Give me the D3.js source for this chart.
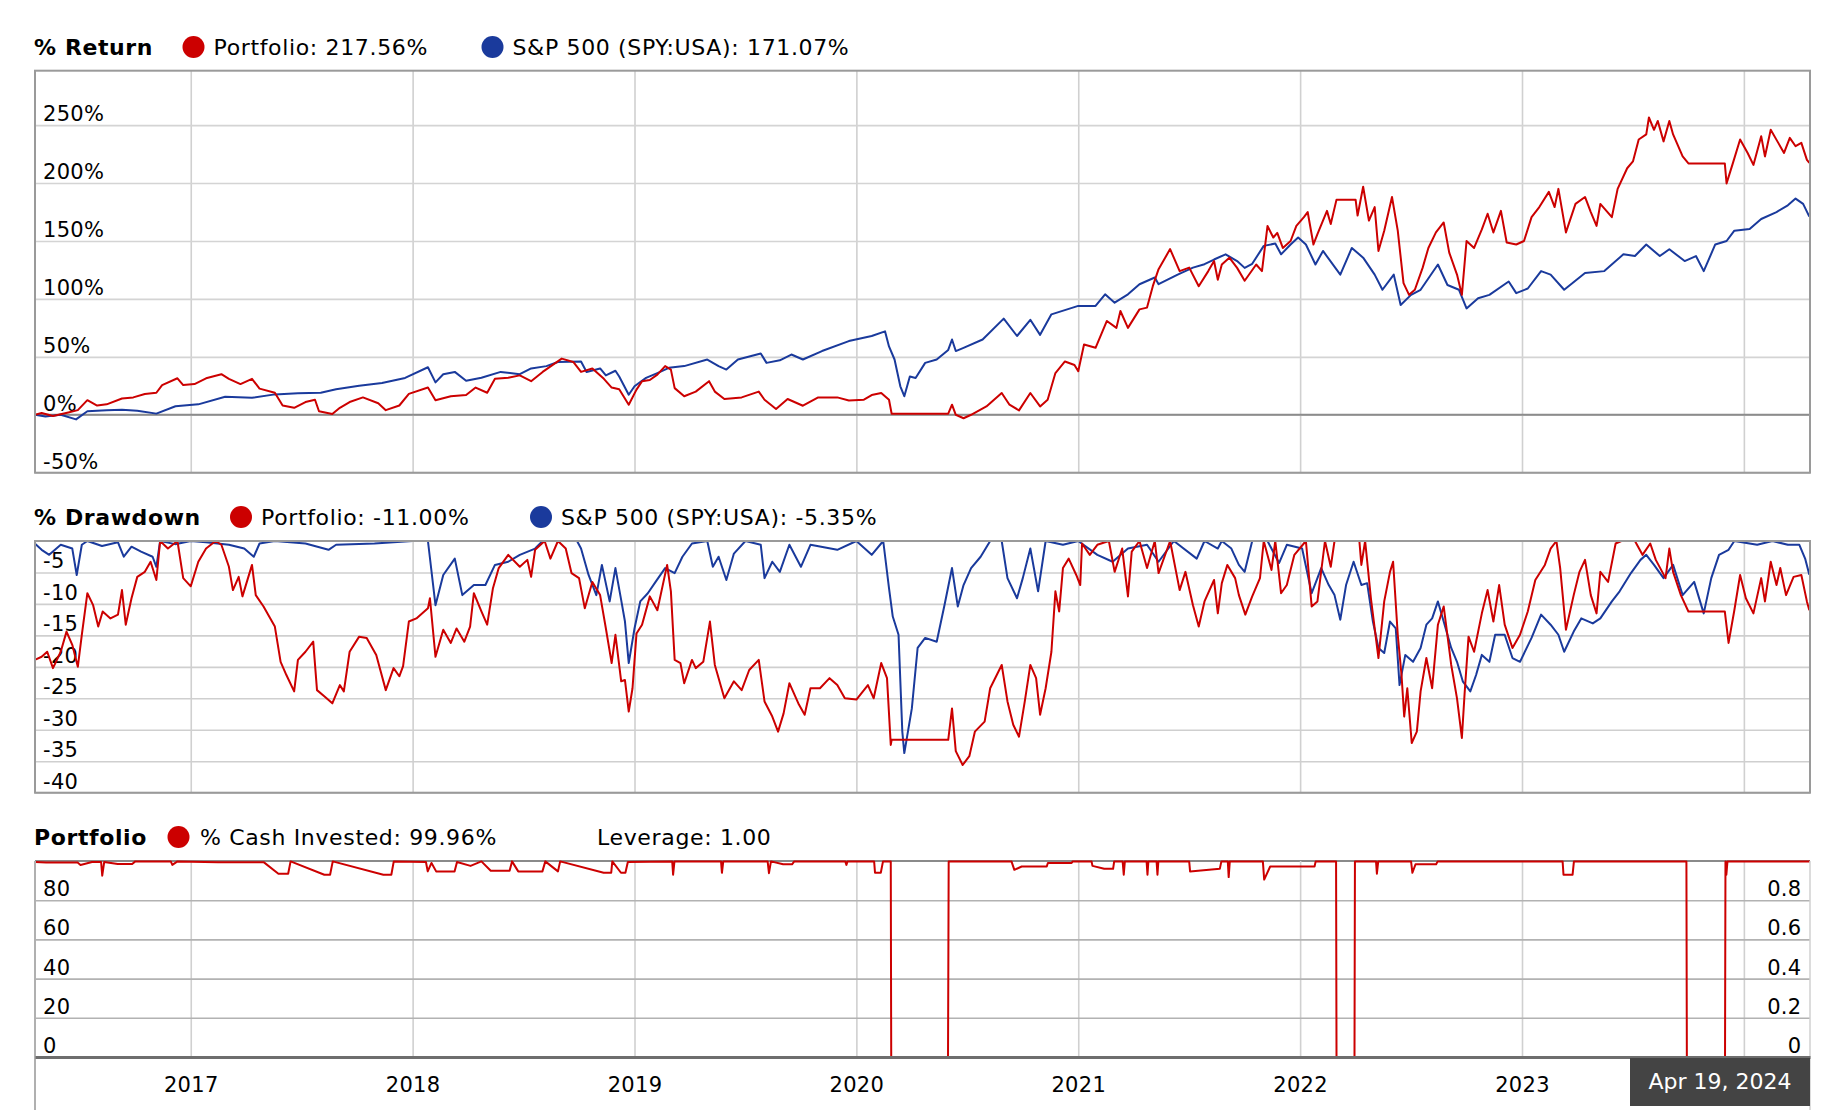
<!DOCTYPE html>
<html>
<head>
<meta charset="utf-8">
<script src="https://cdn.jsdelivr.net/npm/d3@7"></script>
<style>
  html, body { margin: 0; padding: 0; background: #fff; }
  svg { display: block; font-family: "DejaVu Sans", Verdana, sans-serif; }
</style>
</head>
<body>
<svg id="chart" width="1830" height="1110"></svg>
<script>
// ---------------- DATA ----------------
const startDate = 2016.298;   // Apr 19, 2016
const endDate = 2024.298;     // Apr 19, 2024
const yearTicks = [2017, 2018, 2019, 2020, 2021, 2022, 2023, 2024];
const yearLabels = [2017, 2018, 2019, 2020, 2021, 2022, 2023]; // 2024 is hidden under the date box
const returnTicks = [-50, 0, 50, 100, 150, 200, 250];
const drawdownTicks = [-5, -10, -15, -20, -25, -30, -35, -40];
const cashTicks = [0, 20, 40, 60, 80];
const leverageTicks = [0, 0.2, 0.4, 0.6, 0.8];

const returnLegend = ["Portfolio: 217.56%", "S&P 500 (SPY:USA): 171.07%"];
const drawdownLegend = ["Portfolio: -11.00%", "S&P 500 (SPY:USA): -5.35%"];
const cashLegend = ["% Cash Invested: 99.96%", "Leverage: 1.00"];
const tooltipLabel = "Apr 19, 2024";

// [decimal year, % return]
const portfolioReturn = [
[2016.297,0],[2016.328,1.5],[2016.379,-1],[2016.448,2],[2016.491,4],[2016.534,12.6],[2016.578,8],[2016.621,9],
[2016.690,14],[2016.741,15],[2016.793,18],[2016.845,19],[2016.871,25.6],[2016.940,31.5],[2016.966,25.6],[2017.017,26.5],
[2017.069,31.5],[2017.138,35],[2017.172,31],[2017.224,26.5],[2017.276,31],[2017.310,22.6],[2017.379,19],[2017.414,8],
[2017.466,6],[2017.517,11],[2017.560,13],[2017.578,3],[2017.638,0.6],[2017.672,6],[2017.716,11],[2017.776,15],
[2017.845,10],[2017.879,4],[2017.940,8],[2017.983,18],[2018.069,23.5],[2018.103,12.6],[2018.172,16],[2018.241,17],
[2018.284,23.5],[2018.336,19],[2018.371,31],[2018.431,32],[2018.483,34],[2018.534,29],[2018.586,37],[2018.672,48.5],
[2018.724,45.6],[2018.759,37],[2018.810,40],[2018.862,31],[2018.897,23.5],[2018.931,22],[2018.974,8.7],[2019.009,21.7],
[2019.034,29],[2019.069,30],[2019.103,34.7],[2019.138,42],[2019.164,39],[2019.181,23],[2019.224,16],[2019.276,20],
[2019.336,29],[2019.362,20],[2019.405,13.6],[2019.483,15],[2019.560,20],[2019.586,13],[2019.638,5],[2019.690,13.6],
[2019.759,7.8],[2019.828,15],[2019.914,15],[2019.966,12.4],[2020.034,13],[2020.069,17],[2020.112,18.8],[2020.147,13],
[2020.159,0.9],[2020.414,0.9],[2020.431,8.7],[2020.448,0],[2020.483,-3],[2020.517,0],[2020.586,7.2],[2020.655,18.8],
[2020.690,8.7],[2020.733,3.8],[2020.784,18.8],[2020.828,7.2],[2020.862,13],[2020.897,36],[2020.940,46],[2020.983,43],
[2021.000,37.6],[2021.026,60.7],[2021.078,57.8],[2021.129,81],[2021.172,75],[2021.190,89.6],[2021.224,75],[2021.276,91],
[2021.310,92.5],[2021.336,111],[2021.362,125.7],[2021.414,143],[2021.457,124],[2021.500,127],[2021.543,111],[2021.586,124],
[2021.612,132.7],[2021.629,116.6],[2021.647,129.7],[2021.681,135.6],[2021.716,126.8],[2021.750,115.7],[2021.802,129.7],[2021.828,124],
[2021.853,163],[2021.879,153],[2021.897,157],[2021.922,144],[2021.957,150],[2021.983,163],[2022.017,170.6],[2022.034,175],
[2022.060,147],[2022.078,156],[2022.121,176],[2022.138,164.7],[2022.164,185.7],[2022.250,185.7],[2022.259,172],[2022.284,196.8],
[2022.310,167.6],[2022.336,179.3],[2022.353,141.4],[2022.379,158.9],[2022.414,188],[2022.440,158.9],[2022.466,113.7],[2022.491,103.5],
[2022.517,107.9],[2022.552,126.8],[2022.578,144],[2022.612,157.4],[2022.647,166],[2022.672,140],[2022.707,121],[2022.729,103.5],
[2022.750,150],[2022.784,144],[2022.819,160],[2022.845,173.5],[2022.871,157.4],[2022.905,176],[2022.931,148.7],[2022.974,147],
[2023.009,150],[2023.043,170.6],[2023.078,179.3],[2023.121,192.4],[2023.147,179.3],[2023.164,195],[2023.198,157.4],[2023.241,182],
[2023.284,188],[2023.310,175],[2023.336,163],[2023.353,182],[2023.405,170.6],[2023.431,195],[2023.474,212.8],[2023.500,218.7],
[2023.526,237.6],[2023.560,242],[2023.572,256.6],[2023.595,246],[2023.612,253.6],[2023.638,236],[2023.664,253.6],[2023.681,242],
[2023.724,223],[2023.750,217],[2023.914,217],[2023.922,199.7],[2023.948,215.7],[2023.983,237.6],[2024.017,226],[2024.043,215.7],
[2024.078,240.5],[2024.095,223],[2024.121,246],[2024.155,234.7],[2024.181,226],[2024.207,239],[2024.233,231.8],[2024.259,234.7],
[2024.284,220],[2024.295,217.56]
];

const spyReturn = [
[2016.297,0],[2016.345,-1.5],[2016.414,0],[2016.483,-4],[2016.534,3],[2016.621,4],[2016.690,4.4],[2016.759,3.5],
[2016.845,1],[2016.931,7.4],[2017.034,9],[2017.155,15.6],[2017.276,14.7],[2017.379,17.6],[2017.483,18.5],[2017.586,19],
[2017.655,22],[2017.759,25],[2017.862,27.4],[2017.966,31.8],[2018.069,41],[2018.103,28],[2018.138,35],[2018.190,37],
[2018.241,29.4],[2018.310,32],[2018.397,37],[2018.483,35],[2018.534,40],[2018.603,42],[2018.655,45.6],[2018.759,46],
[2018.784,37],[2018.845,40],[2018.871,34],[2018.914,38],[2018.931,33],[2018.974,17.3],[2019.000,24.6],[2019.052,31.8],
[2019.103,36],[2019.155,40.5],[2019.224,42],[2019.328,47.7],[2019.379,42],[2019.414,39],[2019.466,47.7],[2019.569,52.9],
[2019.595,44.8],[2019.655,47],[2019.707,52],[2019.759,47.7],[2019.845,55],[2019.966,63.6],[2020.069,68],[2020.129,72],
[2020.147,59],[2020.172,47.7],[2020.198,24.6],[2020.216,16],[2020.241,33],[2020.267,31.8],[2020.310,44.8],[2020.362,47.7],
[2020.414,56],[2020.431,65],[2020.448,55],[2020.483,57.8],[2020.569,65],[2020.664,83],[2020.724,68],[2020.784,82],
[2020.828,69],[2020.879,86.7],[2021.000,94],[2021.078,94],[2021.121,104],[2021.164,96.8],[2021.224,104],[2021.276,112.7],
[2021.345,118.5],[2021.362,112.7],[2021.448,121],[2021.517,127],[2021.569,130],[2021.612,134],[2021.664,138.5],[2021.716,132.7],
[2021.750,126.8],[2021.784,130.3],[2021.836,145.8],[2021.888,147.8],[2021.914,138.5],[2021.957,147],[2021.991,153],[2022.026,147],
[2022.069,129.7],[2022.103,141.4],[2022.181,121],[2022.233,144],[2022.284,135.6],[2022.336,121],[2022.371,107.9],[2022.422,121],
[2022.453,94.8],[2022.500,103.5],[2022.543,107.9],[2022.621,129.7],[2022.664,112],[2022.716,107.9],[2022.750,91.8],[2022.802,100.6],
[2022.853,103.5],[2022.940,115],[2022.974,105],[2023.026,109],[2023.086,124],[2023.129,121],[2023.190,107.9],[2023.284,122.4],
[2023.371,124],[2023.457,138.5],[2023.509,137],[2023.560,147],[2023.621,137],[2023.664,142.9],[2023.733,132.7],[2023.784,137],
[2023.819,124],[2023.871,147],[2023.922,150],[2023.957,158.9],[2024.026,160.4],[2024.078,169],[2024.147,175],[2024.198,180.8],
[2024.233,186.6],[2024.267,182],[2024.295,171.07]
];

// [decimal year, % drawdown]
const portfolioDrawdown = [
[2016.297,-18.9],[2016.328,-18.4],[2016.353,-17.6],[2016.379,-20.2],[2016.414,-17.6],[2016.440,-14.4],[2016.466,-16.5],[2016.491,-20],
[2016.509,-14.9],[2016.534,-8.3],[2016.560,-10.2],[2016.583,-13.6],[2016.603,-11.2],[2016.638,-12.3],[2016.672,-11.7],[2016.690,-7.8],
[2016.707,-13.3],[2016.733,-9.1],[2016.759,-5.7],[2016.793,-4.9],[2016.819,-3.3],[2016.845,-6.2],[2016.862,0],[2016.897,-1.2],
[2016.940,0],[2016.966,-5.9],[2017.000,-7.2],[2017.034,-3.3],[2017.069,-1.2],[2017.112,0],[2017.138,-0.6],[2017.172,-4.1],
[2017.190,-7.8],[2017.216,-5.7],[2017.233,-8.8],[2017.276,-3.8],[2017.293,-8.6],[2017.328,-10.4],[2017.379,-13.6],[2017.405,-19.2],
[2017.431,-21.3],[2017.466,-23.9],[2017.483,-18.9],[2017.517,-17.6],[2017.552,-16],[2017.569,-23.7],[2017.603,-24.7],[2017.638,-25.8],
[2017.672,-22.9],[2017.690,-23.9],[2017.716,-17.6],[2017.759,-15.2],[2017.793,-15.4],[2017.836,-18.1],[2017.879,-23.7],[2017.914,-20.2],
[2017.940,-21.5],[2017.957,-19.9],[2017.983,-12.8],[2018.017,-12.3],[2018.069,-10.7],[2018.078,-9.1],[2018.103,-18.4],[2018.138,-14.1],
[2018.172,-16.2],[2018.198,-13.9],[2018.233,-16],[2018.259,-13.6],[2018.276,-8.3],[2018.310,-11.2],[2018.336,-13.3],[2018.362,-7.5],
[2018.388,-4.3],[2018.431,-2.2],[2018.483,-4.1],[2018.517,-3],[2018.534,-5.7],[2018.552,-1.4],[2018.595,0],[2018.621,-2.8],
[2018.655,0],[2018.690,-1.2],[2018.716,-5.1],[2018.750,-5.9],[2018.776,-10.7],[2018.810,-6.5],[2018.845,-8.6],[2018.871,-13.9],
[2018.897,-19.4],[2018.914,-14.9],[2018.940,-22.3],[2018.957,-22.1],[2018.974,-27.1],[2018.991,-23.4],[2019.009,-14.7],[2019.034,-13.3],
[2019.069,-8.8],[2019.103,-11],[2019.147,-3.8],[2019.164,-8],[2019.181,-18.9],[2019.207,-19.4],[2019.224,-22.6],[2019.259,-18.9],
[2019.276,-20.2],[2019.310,-19.2],[2019.340,-12.8],[2019.362,-19.7],[2019.405,-25],[2019.448,-22.3],[2019.483,-23.7],[2019.517,-20.5],
[2019.560,-18.9],[2019.586,-25.5],[2019.621,-27.9],[2019.647,-30.3],[2019.672,-27.4],[2019.698,-22.6],[2019.741,-26],[2019.767,-27.6],
[2019.793,-23.4],[2019.836,-23.4],[2019.879,-21.8],[2019.914,-22.9],[2019.948,-25],[2020.000,-25.2],[2020.052,-22.9],[2020.078,-25],
[2020.112,-19.4],[2020.138,-21.8],[2020.155,-32.4],[2020.159,-31.6],[2020.414,-31.6],[2020.431,-26.6],[2020.448,-33.4],[2020.479,-35.6],
[2020.509,-34.2],[2020.534,-30.3],[2020.578,-28.7],[2020.603,-23.4],[2020.655,-19.7],[2020.681,-25.5],[2020.707,-29.2],[2020.733,-31.1],
[2020.759,-25.5],[2020.784,-19.7],[2020.810,-21.8],[2020.828,-27.6],[2020.853,-23.4],[2020.879,-17.6],[2020.897,-8],[2020.914,-11.2],
[2020.931,-4.3],[2020.957,-2.8],[2020.991,-5.4],[2021.009,-7],[2021.017,-0.4],[2021.052,-2.2],[2021.086,-0.6],[2021.138,0],
[2021.164,-4.9],[2021.198,-1.2],[2021.224,-8.8],[2021.241,-1.7],[2021.276,0],[2021.310,-4.3],[2021.345,0],[2021.362,-5.1],
[2021.414,0],[2021.457,-7.8],[2021.483,-4.9],[2021.517,-10.2],[2021.543,-13.6],[2021.569,-9.6],[2021.612,-6.2],[2021.629,-11.5],
[2021.647,-6.7],[2021.672,-3.8],[2021.707,-5.9],[2021.724,-8.6],[2021.753,-11.7],[2021.784,-8.8],[2021.819,-5.9],[2021.836,0],
[2021.871,-4.6],[2021.888,0],[2021.914,-8.3],[2021.940,-7],[2021.974,-2.2],[2022.026,0],[2022.052,-10.4],[2022.078,-9.6],
[2022.112,0],[2022.138,-4.1],[2022.155,0],[2022.267,0],[2022.276,-3.8],[2022.293,0],[2022.319,-9.1],[2022.353,-18.6],
[2022.379,-9.6],[2022.405,-4.9],[2022.419,-3.3],[2022.440,-14.9],[2022.457,-21.3],[2022.469,-27.9],[2022.483,-23.4],[2022.503,-32.1],
[2022.526,-30.3],[2022.543,-23.9],[2022.569,-18.6],[2022.595,-23.4],[2022.621,-13.3],[2022.647,-10.4],[2022.681,-19.7],[2022.707,-25],
[2022.729,-31.3],[2022.741,-24.4],[2022.759,-15.2],[2022.784,-17.6],[2022.819,-11.5],[2022.845,-7.8],[2022.871,-12.8],[2022.897,-7],
[2022.922,-13.3],[2022.957,-17],[2022.991,-14.9],[2023.026,-11.2],[2023.060,-6.2],[2023.103,-3.8],[2023.129,-1.2],[2023.155,0],
[2023.172,-4.3],[2023.198,-14.1],[2023.233,-8.6],[2023.259,-4.9],[2023.284,-3],[2023.310,-8.6],[2023.336,-11.5],[2023.353,-4.9],
[2023.388,-6.5],[2023.422,-0.4],[2023.448,0],[2023.509,0],[2023.543,-2.2],[2023.578,-0.4],[2023.603,-3],[2023.647,-5.9],
[2023.664,-1.2],[2023.681,-4.9],[2023.716,-8.6],[2023.750,-11.2],[2023.914,-11.2],[2023.931,-16.2],[2023.957,-11],[2023.983,-5.4],
[2024.009,-9.1],[2024.043,-11.5],[2024.078,-5.9],[2024.095,-9.6],[2024.121,-3.3],[2024.147,-7],[2024.164,-4.3],[2024.190,-8.6],
[2024.224,-5.7],[2024.259,-5.4],[2024.284,-9.6],[2024.295,-11]
];

const spyDrawdown = [
[2016.297,-0.4],[2016.328,-1.4],[2016.362,-2.2],[2016.414,-0.6],[2016.466,-1.2],[2016.486,-5.4],[2016.509,-0.6],[2016.534,0],
[2016.600,-0.8],[2016.672,-0.2],[2016.698,-2.5],[2016.733,-0.9],[2016.776,-1.7],[2016.828,-2.5],[2016.845,-4.1],[2016.862,0],
[2016.930,-0.5],[2017.000,0],[2017.069,-0.2],[2017.172,-0.6],[2017.241,-1.2],[2017.284,-2.5],[2017.310,-0.4],[2017.379,0],
[2017.517,-0.4],[2017.621,-1.4],[2017.655,-0.6],[2017.828,-0.4],[2018.000,0],[2018.069,0],[2018.103,-10.2],[2018.138,-5.4],
[2018.190,-2.8],[2018.224,-8.6],[2018.276,-7],[2018.328,-7],[2018.371,-3.8],[2018.431,-3.3],[2018.483,-2.2],[2018.552,-1.2],
[2018.586,0],[2018.741,0],[2018.759,-1.2],[2018.793,-5.4],[2018.828,-8.6],[2018.853,-3.8],[2018.888,-9.6],[2018.914,-4.3],
[2018.940,-9.4],[2018.957,-12.8],[2018.974,-19.4],[2019.000,-13.9],[2019.026,-9.6],[2019.060,-8.3],[2019.095,-6.5],[2019.138,-4.3],
[2019.181,-5.1],[2019.216,-2.5],[2019.259,-0.4],[2019.328,0],[2019.353,-4.1],[2019.379,-2.5],[2019.414,-6.2],[2019.448,-2],
[2019.500,0],[2019.569,-0.6],[2019.586,-5.9],[2019.621,-3.3],[2019.655,-4.9],[2019.698,-0.6],[2019.750,-4.1],[2019.793,-0.6],
[2019.914,-1.4],[2020.000,0],[2020.069,-2.2],[2020.121,0],[2020.147,-7.5],[2020.164,-12],[2020.190,-14.9],[2020.207,-30.3],
[2020.216,-33.7],[2020.250,-26.6],[2020.276,-17],[2020.310,-15.4],[2020.362,-16],[2020.397,-10.2],[2020.431,-4.3],[2020.457,-10.4],
[2020.483,-7],[2020.517,-4.3],[2020.560,-2.5],[2020.603,0],[2020.655,0],[2020.681,-5.9],[2020.724,-9.1],[2020.750,-5.9],
[2020.784,-1.2],[2020.819,-8],[2020.853,0],[2020.931,-0.6],[2021.000,0],[2021.086,-2.2],[2021.155,-3.3],[2021.224,-1.2],
[2021.310,-0.6],[2021.362,-3.3],[2021.431,0],[2021.534,-2.8],[2021.569,0],[2021.629,-1.2],[2021.647,0],[2021.690,-1.2],
[2021.724,-3.8],[2021.750,-4.9],[2021.784,0],[2021.853,0],[2021.905,-3.5],[2021.940,-0.6],[2022.009,-1.2],[2022.052,-8.3],
[2022.078,-5.9],[2022.095,-4.3],[2022.129,-7],[2022.155,-8.6],[2022.181,-12.5],[2022.207,-7],[2022.241,-3.3],[2022.276,-7],
[2022.302,-6.7],[2022.328,-12.8],[2022.353,-17],[2022.379,-17.8],[2022.405,-12.8],[2022.431,-13.9],[2022.448,-22.9],[2022.474,-18.1],
[2022.509,-19.2],[2022.543,-17],[2022.569,-13.3],[2022.595,-12.3],[2022.621,-9.6],[2022.647,-12.8],[2022.681,-17],[2022.707,-19.2],
[2022.733,-22.3],[2022.767,-23.9],[2022.793,-21.3],[2022.819,-18.1],[2022.853,-19.2],[2022.879,-14.9],[2022.922,-14.9],[2022.957,-18.6],
[2022.991,-19.2],[2023.043,-15.4],[2023.086,-11.7],[2023.129,-13.3],[2023.164,-14.9],[2023.190,-17.6],[2023.233,-14.4],[2023.267,-12.3],
[2023.319,-13.1],[2023.353,-12.3],[2023.405,-9.6],[2023.440,-8],[2023.491,-5.1],[2023.534,-3],[2023.560,-2.2],[2023.595,-3.8],
[2023.638,-5.9],[2023.681,-3.8],[2023.724,-8.6],[2023.776,-6.5],[2023.819,-11.5],[2023.853,-5.9],[2023.888,-2.2],[2023.931,-1.4],
[2023.957,0],[2024.060,-0.6],[2024.129,0],[2024.198,-0.6],[2024.250,-0.6],[2024.276,-2.8],[2024.295,-5.35]
];

// [decimal year, % cash invested]
const cashInvested = [
[2016.300,99.5],[2016.348,99.2],[2016.490,99.2],[2016.503,98],[2016.555,99.5],[2016.596,99.5],[2016.601,92.5],[2016.610,99.5],
[2016.671,98.5],[2016.736,98.5],[2016.750,99.8],[2016.910,99.8],[2016.917,98],[2016.940,99.8],[2017.123,99.3],[2017.330,99.3],
[2017.395,93.5],[2017.439,93.5],[2017.450,99.8],[2017.602,93],[2017.628,93],[2017.640,99.8],[2017.868,93],[2017.904,93],
[2017.915,99.8],[2018.060,99.5],[2018.068,94.7],[2018.085,99],[2018.106,94.7],[2018.189,94.7],[2018.200,99.5],[2018.261,97.5],
[2018.310,99.8],[2018.352,95],[2018.437,95],[2018.448,99.8],[2018.476,94.7],[2018.585,94.7],[2018.598,99.8],[2018.655,94.7],
[2018.665,99.8],[2018.861,94],[2018.895,94],[2018.900,99.8],[2018.939,94],[2018.959,94],[2018.970,99.5],[2019.170,99.8],
[2019.174,93],[2019.180,99.8],[2019.390,99.8],[2019.394,94],[2019.400,99.8],[2019.600,99.8],[2019.606,93.8],[2019.615,99.8],
[2019.670,98.3],[2019.710,98.3],[2019.720,99.8],[2019.950,99.8],[2019.955,98],[2019.960,99.8],[2020.080,99.8],[2020.084,94],
[2020.110,94],[2020.120,99.8],[2020.155,99.8],[2020.157,0],[2020.413,0],[2020.416,99.8],[2020.699,99.8],[2020.712,95.5],
[2020.745,97.2],[2020.858,97.2],[2020.863,99],[2020.970,99],[2020.975,99.8],[2021.060,99.8],[2021.064,97.5],[2021.117,96],
[2021.157,96],[2021.162,99.8],[2021.200,99.8],[2021.205,93],[2021.210,99.8],[2021.308,99.8],[2021.312,93],[2021.316,99.8],
[2021.353,99.8],[2021.357,93],[2021.361,99.8],[2021.500,99.8],[2021.504,94.7],[2021.638,96],[2021.645,99.8],[2021.674,99.8],
[2021.678,91.8],[2021.683,99.8],[2021.832,99.8],[2021.838,90.5],[2021.865,97.2],[2022.065,97.2],[2022.070,99.8],[2022.162,99.8],
[2022.164,0],[2022.245,0],[2022.247,99.8],[2022.342,99.8],[2022.346,93.5],[2022.352,99.8],[2022.500,99.8],[2022.506,94],
[2022.520,98.3],[2022.613,98.3],[2022.620,99.8],[2023.183,99.8],[2023.187,93],[2023.228,93],[2023.234,99.8],[2023.741,99.8],
[2023.743,0],[2023.915,0],[2023.917,99.8],[2023.921,93],[2023.926,99.8],[2024.298,99.8]
];

// ---------------- LAYOUT / STYLE ----------------
const RED = "#cc0000", BLUE = "#1a3a9c";
const left = 35, right = 1810;
const panels = {
  ret:  { top: 70.7, bottom: 472.7 },
  dd:   { top: 541,  bottom: 792.7 },
  cash: { top: 861,  bottom: 1057 }
};

const svg = d3.select("#chart");

const x = d3.scaleLinear().domain([startDate, endDate]).range([left, right]);
const yRet = d3.scaleLinear().domain([-50, 297]).range([panels.ret.bottom, panels.ret.top]);
const yDD = d3.scaleLinear().domain([-40, 0]).range([panels.dd.bottom, panels.dd.top]);
const yCash = d3.scaleLinear().domain([0, 100]).range([panels.cash.bottom, panels.cash.top]);
const yLev = d3.scaleLinear().domain([0, 1]).range([panels.cash.bottom, panels.cash.top]);

// clip paths
const defs = svg.append("defs");
Object.entries(panels).forEach(([k, p]) => {
  defs.append("clipPath").attr("id", "clip-" + k)
    .append("rect").attr("x", left).attr("y", p.top - 2)
    .attr("width", right - left).attr("height", p.bottom - p.top + 4);
});

// vertical gridlines for each panel via axisBottom
function vGrid(p, color) {
  svg.append("g")
    .attr("transform", `translate(0,${p.bottom})`)
    .call(d3.axisBottom(x).tickValues(yearTicks).tickSize(-(p.bottom - p.top)).tickFormat(""))
    .call(g => g.select(".domain").remove())
    .call(g => g.selectAll(".tick line").attr("stroke", color).attr("stroke-width", 1.6));
}
vGrid(panels.ret, "#d0d0d0");
vGrid(panels.dd, "#d0d0d0");
vGrid(panels.cash, "#d0d0d0");

// horizontal grid + labels
function hGrid(scale, ticks, fmt, color, labelSide) {
  const ax = labelSide === "right"
    ? d3.axisRight(scale).tickSize(0)
    : d3.axisLeft(scale).tickSize(0);
  const g = svg.append("g")
    .attr("transform", `translate(${labelSide === "right" ? right : left},0)`)
    .call(ax.tickValues(ticks).tickFormat(fmt));
  g.select(".domain").remove();
  if (color) {
    g.selectAll(".tick").append("line")
      .attr("x1", labelSide === "right" ? -(right - left) : 0)
      .attr("x2", labelSide === "right" ? 0 : right - left)
      .attr("stroke", color).attr("stroke-width", 1.6);
  }
  g.selectAll(".tick text")
    .attr("x", labelSide === "right" ? -8.5 : 8)
    .attr("dy", -4.5)
    .attr("text-anchor", labelSide === "right" ? "end" : "start")
    .attr("font-size", 21)
    .attr("letter-spacing", 0.3)
    .attr("font-family", "'DejaVu Sans', Verdana, sans-serif")
    .attr("fill", "#000");
  g.selectAll(".tick text").raise();
  return g;
}
hGrid(yRet, returnTicks, d => d + "%", "#d4d4d4", "left");
hGrid(yDD, drawdownTicks, d => d, "#cfcfcf", "left");
hGrid(yCash, cashTicks, d => d, "#b2b2b2", "left");
hGrid(yLev, leverageTicks, d => d, null, "right");

// zero line on return panel
svg.append("line")
  .attr("x1", left).attr("x2", right)
  .attr("y1", yRet(0)).attr("y2", yRet(0))
  .attr("stroke", "#8c8c8c").attr("stroke-width", 2);

// data lines
function drawLine(data, yScale, color, clip) {
  svg.append("path")
    .datum(data)
    .attr("clip-path", `url(#clip-${clip})`)
    .attr("fill", "none")
    .attr("stroke", color)
    .attr("stroke-width", 2)
    .attr("stroke-linejoin", "round")
    .attr("d", d3.line().x(d => x(d[0])).y(d => yScale(d[1])));
}
drawLine(spyReturn, yRet, BLUE, "ret");
drawLine(portfolioReturn, yRet, RED, "ret");
drawLine(spyDrawdown, yDD, BLUE, "dd");
drawLine(portfolioDrawdown, yDD, RED, "dd");
drawLine(cashInvested, yCash, RED, "cash");

// panel borders
function border(p) {
  svg.append("rect")
    .attr("x", left).attr("y", p.top)
    .attr("width", right - left).attr("height", p.bottom - p.top)
    .attr("fill", "none").attr("stroke", "#9a9a9a").attr("stroke-width", 2);
}
border(panels.ret);
border(panels.dd);
svg.append("line").attr("x1", left).attr("x2", right)
  .attr("y1", panels.cash.top).attr("y2", panels.cash.top)
  .attr("stroke", "#8a8a8a").attr("stroke-width", 2).lower();
svg.append("line").attr("x1", left).attr("x2", left)
  .attr("y1", panels.cash.top).attr("y2", 1110)
  .attr("stroke", "#b0b0b0").attr("stroke-width", 2);
svg.append("line").attr("x1", right).attr("x2", right)
  .attr("y1", panels.cash.top).attr("y2", 1110)
  .attr("stroke", "#d0d0d0").attr("stroke-width", 1.5);

// x axis (years)
const xAxisG = svg.append("g")
  .attr("transform", `translate(0,${panels.cash.bottom})`)
  .call(d3.axisBottom(x).tickValues(yearLabels).tickFormat(d3.format("d")).tickSize(0));
xAxisG.select(".domain").attr("stroke", "#6e6e6e").attr("stroke-width", 3);
xAxisG.selectAll(".tick text")
  .attr("y", 35).attr("dy", 0)
  .attr("font-size", 21)
  .attr("letter-spacing", 0.3)
  .attr("font-family", "'DejaVu Sans', Verdana, sans-serif")
  .attr("fill", "#000");

// titles & legends
function title(txt, xPos, y) {
  svg.append("text").attr("x", xPos).attr("y", y)
    .attr("font-size", 22).attr("font-weight", "bold")
    .attr("letter-spacing", 0.6).attr("fill", "#000").text(txt);
}
function legendItem(color, cx, tx, y, txt) {
  if (color) {
    svg.append("ellipse").attr("cx", cx).attr("cy", y - 8).attr("rx", 11).attr("ry", 11).attr("fill", color);
  }
  svg.append("text").attr("x", tx).attr("y", y)
    .attr("font-size", 22).attr("letter-spacing", 0.65).attr("fill", "#000").text(txt);
}
title("% Return", 34, 55);
legendItem(RED, 193.5, 213.5, 55, returnLegend[0]);
legendItem(BLUE, 492.5, 512.5, 55, returnLegend[1]);

title("% Drawdown", 34, 525);
legendItem(RED, 241, 261, 525, drawdownLegend[0]);
legendItem(BLUE, 541, 561, 525, drawdownLegend[1]);

title("Portfolio", 34, 845);
legendItem(RED, 178.5, 200, 845, cashLegend[0]);
legendItem(null, 0, 597, 845, cashLegend[1]);

// tooltip date box
const tipG = svg.append("g");
tipG.append("rect").attr("x", 1630).attr("y", 1058).attr("width", 180).attr("height", 48).attr("fill", "#444444");
tipG.append("text").attr("x", 1720).attr("y", 1089).attr("text-anchor", "middle")
  .attr("font-size", 22).attr("fill", "#fff").text(tooltipLabel);
</script>
</body>
</html>
